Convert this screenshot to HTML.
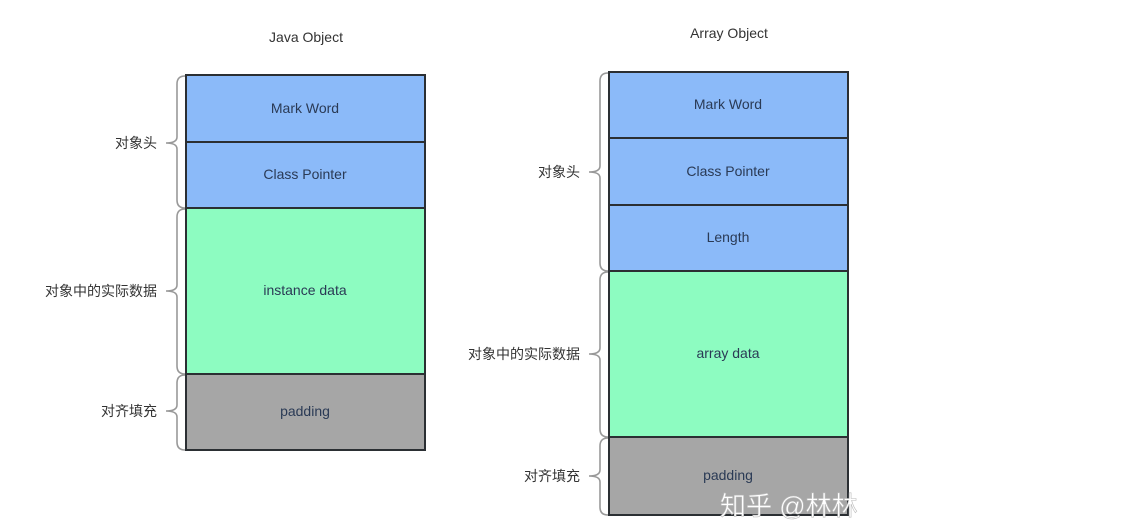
<!DOCTYPE html>
<html><head><meta charset="utf-8"><style>
html,body{margin:0;padding:0;background:#fff}
svg text{font-family:"Liberation Sans","Noto Sans CJK SC",sans-serif;font-size:14px;fill:#333}
.t{fill:#2a3a55}
</style></head><body>
<svg width="1139" height="523" viewBox="0 0 1139 523" xmlns="http://www.w3.org/2000/svg">
<g stroke="#2b2f33" stroke-width="2">
<rect x="186" y="75" width="239" height="67" fill="#8bbaf9"/>
<rect x="186" y="142" width="239" height="66" fill="#8bbaf9"/>
<rect x="186" y="208" width="239" height="166" fill="#8dfcc1"/>
<rect x="186" y="374" width="239" height="76" fill="#a6a6a6"/>
<rect x="609" y="72" width="239" height="66" fill="#8bbaf9"/>
<rect x="609" y="138" width="239" height="67" fill="#8bbaf9"/>
<rect x="609" y="205" width="239" height="66" fill="#8bbaf9"/>
<rect x="609" y="271" width="239" height="166" fill="#8dfcc1"/>
<rect x="609" y="437" width="239" height="78" fill="#a6a6a6"/>
</g>
<g fill="none" stroke="#999" stroke-width="1.6">
<path d="M185,76 Q177,76 177,84 L177,137 Q177,143 166,143 Q177,143 177,149 L177,200 Q177,208 185,208"/>
<path d="M185,209 Q177,209 177,217 L177,285 Q177,291 166,291 Q177,291 177,297 L177,366 Q177,374 185,374"/>
<path d="M185,375 Q177,375 177,383 L177,405 Q177,411 166,411 Q177,411 177,417 L177,442 Q177,450 185,450"/>
<path d="M608,73 Q600,73 600,81 L600,166 Q600,172 589,172 Q600,172 600,178 L600,263 Q600,271 608,271"/>
<path d="M608,272 Q600,272 600,280 L600,348 Q600,354 589,354 Q600,354 600,360 L600,429 Q600,437 608,437"/>
<path d="M608,438 Q600,438 600,446 L600,470 Q600,476 589,476 Q600,476 600,482 L600,507 Q600,515 608,515"/>
</g>
<text x="306" y="42" text-anchor="middle">Java Object</text>
<text x="729" y="38" text-anchor="middle">Array Object</text>
<g text-anchor="middle" class="t">
<text class="t" x="305" y="113">Mark Word</text>
<text class="t" x="305" y="179">Class Pointer</text>
<text class="t" x="305" y="295">instance data</text>
<text class="t" x="305" y="416">padding</text>
<text class="t" x="728" y="109">Mark Word</text>
<text class="t" x="728" y="176">Class Pointer</text>
<text class="t" x="728" y="242">Length</text>
<text class="t" x="728" y="358">array data</text>
<text class="t" x="728" y="480">padding</text>
</g>
<g text-anchor="end">
<text x="157" y="148">对象头</text>
<text x="157" y="296">对象中的实际数据</text>
<text x="157" y="416">对齐填充</text>
<text x="580" y="177">对象头</text>
<text x="580" y="359">对象中的实际数据</text>
<text x="580" y="481">对齐填充</text>
</g>
<text x="720" y="515" style="font-size:26px;fill:#fff;stroke:#bbb;stroke-width:0.6">知乎 @林林</text>
</svg>
</body></html>
